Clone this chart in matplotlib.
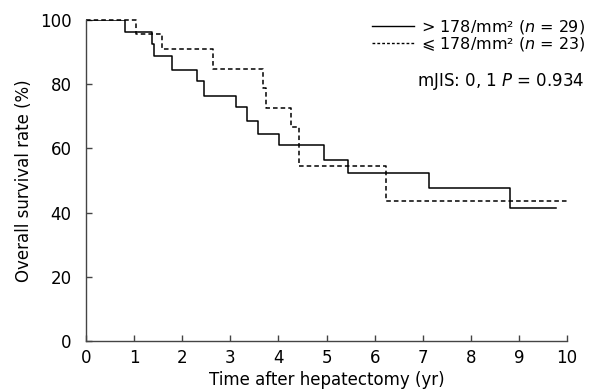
import matplotlib
matplotlib.use("Agg")
import matplotlib.pyplot as plt
from matplotlib.lines import Line2D

# Kaplan-Meier steps
t_high = [0, 0.81, 1.37, 1.41, 1.78, 2.30, 2.45, 3.11, 3.34, 3.57, 4.01, 4.95, 5.45, 7.12, 8.81, 9.76]
s_high = [100, 96.4, 92.6, 88.8, 84.5, 81.0, 76.4, 72.9, 68.6, 64.6, 61.0, 56.3, 52.3, 47.6, 41.3, 41.3]

t_low = [0, 1.05, 1.57, 2.63, 3.67, 3.74, 4.26, 4.43, 6.24, 10.0]
s_low = [100, 95.5, 90.9, 84.6, 78.7, 72.7, 66.7, 54.6, 43.7, 43.7]

xticks = list(range(0, 11))
yticks = [0, 20, 40, 60, 80, 100]

plt.rcParams['font.family'] = ['DejaVu Sans', 'Noto Sans CJK SC']
plt.rcParams['font.size'] = 12
plt.rcParams['mathtext.fontset'] = 'dejavusans'

fig = plt.figure(figsize=(5.97, 3.92), dpi=100)
ax = fig.add_axes([0.144, 0.130, 0.806, 0.819])

ax.plot(t_high, s_high, drawstyle='steps-post', color='black', lw=1.1)
ax.plot(t_low, s_low, drawstyle='steps-post', color='black', lw=1.1,
        linestyle=(0, (3, 2)), clip_on=False)

ax.set_xlim(0, 10)
ax.set_ylim(0, 100)
ax.set_xticks(xticks)
ax.set_yticks(yticks)
for side in ['top', 'right']:
    ax.spines[side].set_visible(False)
for side in ['left', 'bottom']:
    ax.spines[side].set_color('#444444')
    ax.spines[side].set_linewidth(1.0)
ax.tick_params(direction='in', length=4.5, width=1.0, color='#444444')
ax.tick_params(axis='x', pad=5.5)
ax.tick_params(axis='y', pad=10.5)
ax.set_xlabel('Time after hepatectomy (yr)', labelpad=3)
ax.set_ylabel('Overall survival rate (%)', labelpad=5)

handles = [Line2D([], [], color='black', lw=1.0),
           Line2D([], [], color='black', lw=1.0, linestyle=(0, (2, 1.5)))]
labels = ['> 178/mm\u00b2 ($\\it{n}$ = 29)', '\u2a7d 178/mm\u00b2 ($\\it{n}$ = 23)']
fig.legend(handles, labels, loc='upper right', bbox_to_anchor=(585 / 597, 0.953),
           frameon=False, handlelength=2.6, handletextpad=0.45,
           labelspacing=-0.07, borderpad=0, borderaxespad=0, fontsize=11.5)

fig.text(585 / 597, 0.792, 'mJIS: 0, 1 $\\it{P}$ = 0.934', ha='right', va='center')

fig.savefig('out.png', dpi=100)
